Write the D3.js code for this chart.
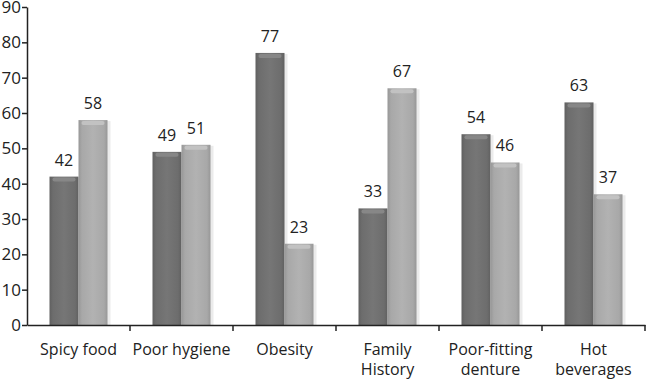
<!DOCTYPE html>
<html>
<head>
<meta charset="utf-8">
<script src="https://cdn.jsdelivr.net/npm/d3@7"></script>
<style>
  body { margin: 0; background: #fff; }
  text { font-family: "Open Sans", "Liberation Sans", sans-serif; fill: #222; }
</style>
</head>
<body>
<div id="chart"></div>
<script>
var categories = [["Spicy food"], ["Poor hygiene"], ["Obesity"], ["Family", "History"], ["Poor-fitting", "denture"], ["Hot", "beverages"]];
var seriesA = [42, 49, 77, 33, 54, 63];
var seriesB = [58, 51, 23, 67, 46, 37];
var yTicks = [0, 10, 20, 30, 40, 50, 60, 70, 80, 90];

var width = 646, height = 380;
var margin = {top: 7, right: 1, bottom: 55, left: 27};
var chartWidth = width - margin.left - margin.right,
    chartHeight = height - margin.top - margin.bottom;

var svg = d3.select('#chart').append('svg')
  .attr('width', width)
  .attr('height', height);

var defs = svg.append('defs');
function grad(id, edge, mid, hi) {
  var g = defs.append('linearGradient').attr('id', id)
    .attr('x1', 0).attr('x2', 1).attr('y1', 0).attr('y2', 0);
  g.append('stop').attr('offset', '0%').attr('stop-color', edge);
  g.append('stop').attr('offset', '12%').attr('stop-color', mid);
  g.append('stop').attr('offset', '50%').attr('stop-color', hi);
  g.append('stop').attr('offset', '88%').attr('stop-color', mid);
  g.append('stop').attr('offset', '100%').attr('stop-color', edge);
}
grad('gDark', '#606060', '#6d6d6d', '#767676');
grad('gLight', '#979797', '#a8a8a8', '#b2b2b2');

var chart = svg.append('g')
  .attr('transform', 'translate(' + margin.left + ',' + margin.top + ')');

var x0 = d3.scaleBand()
  .domain(d3.range(categories.length))
  .range([0, chartWidth]);

var x1 = d3.scaleBand()
  .domain([0, 1])
  .range([x0.bandwidth() / 2 - 29, x0.bandwidth() / 2 + 29]);

var y = d3.scaleLinear()
  .domain([0, 90])
  .range([chartHeight, 0]);

var rows = categories.map(function(c, i) {
  return [{s: 0, v: seriesA[i]}, {s: 1, v: seriesB[i]}];
});

var groups = chart.selectAll('g.cat')
  .data(rows)
  .enter().append('g')
  .attr('class', 'cat')
  .attr('transform', function(d, i) { return 'translate(' + x0(i) + ',0)'; });

var bars = groups.selectAll('g.bar')
  .data(function(d) { return d; })
  .enter().append('g')
  .attr('class', 'bar');

// soft shadow
bars.append('rect')
  .attr('x', function(d) { return x1(d.s) + 1; })
  .attr('y', function(d) { return y(d.v) + 1; })
  .attr('width', x1.bandwidth() + 2)
  .attr('height', function(d) { return chartHeight - y(d.v); })
  .attr('fill', '#ebebeb');

bars.append('rect')
  .attr('x', function(d) { return x1(d.s); })
  .attr('y', function(d) { return y(d.v); })
  .attr('width', x1.bandwidth())
  .attr('height', function(d) { return chartHeight - y(d.v); })
  .attr('fill', function(d) { return d.s ? 'url(#gLight)' : 'url(#gDark)'; });

// top bevel highlight
bars.append('rect')
  .attr('x', function(d) { return x1(d.s) + 3; })
  .attr('y', function(d) { return y(d.v) + 1; })
  .attr('width', x1.bandwidth() - 6)
  .attr('height', 4)
  .attr('rx', 2)
  .attr('fill', function(d) { return d.s ? '#c2c2c2' : '#878787'; });

bars.append('text')
  .attr('x', function(d) { return x1(d.s) + x1.bandwidth() / 2; })
  .attr('y', function(d) { return y(d.v) - 11; })
  .attr('text-anchor', 'middle')
  .style('font-size', '16px')
  .text(function(d) { return d.v; });

var yAxis = d3.axisLeft(y)
  .tickValues(yTicks)
  .tickSize(5)
  .tickSizeOuter(0);

var gy = chart.append('g').attr('class', 'yAxis').call(yAxis);
gy.selectAll('text').style('font-size', '17px').attr('x', -6);
gy.selectAll('line, path').attr('stroke', '#222').attr('stroke-width', 1.5);

var xAxis = d3.axisBottom(x0)
  .tickValues([])
  .tickSizeOuter(0);

var gx = chart.append('g')
  .attr('class', 'xAxis')
  .attr('transform', 'translate(0,' + chartHeight + ')')
  .call(xAxis);
gx.select('path').attr('stroke', '#222').attr('stroke-width', 1.5);

// category separators
gx.selectAll('line.sep')
  .data(d3.range(1, categories.length + 1))
  .enter().append('line')
  .attr('class', 'sep')
  .attr('x1', function(i) { return i * x0.step(); })
  .attr('x2', function(i) { return i * x0.step(); })
  .attr('y1', 0).attr('y2', 6)
  .attr('stroke', '#222').attr('stroke-width', 1.5);

var labels = gx.selectAll('text.cat')
  .data(categories)
  .enter().append('text')
  .attr('class', 'cat')
  .attr('x', function(d, i) { return x0(i) + x0.bandwidth() / 2; })
  .attr('y', 30)
  .attr('text-anchor', 'middle')
  .style('font-size', '16px');

labels.selectAll('tspan')
  .data(function(d) { return d; })
  .enter().append('tspan')
  .attr('x', function() { return d3.select(this.parentNode).attr('x'); })
  .attr('dy', function(d, i) { return i ? 20 : 0; })
  .text(function(d) { return d; });
</script>
</body>
</html>
